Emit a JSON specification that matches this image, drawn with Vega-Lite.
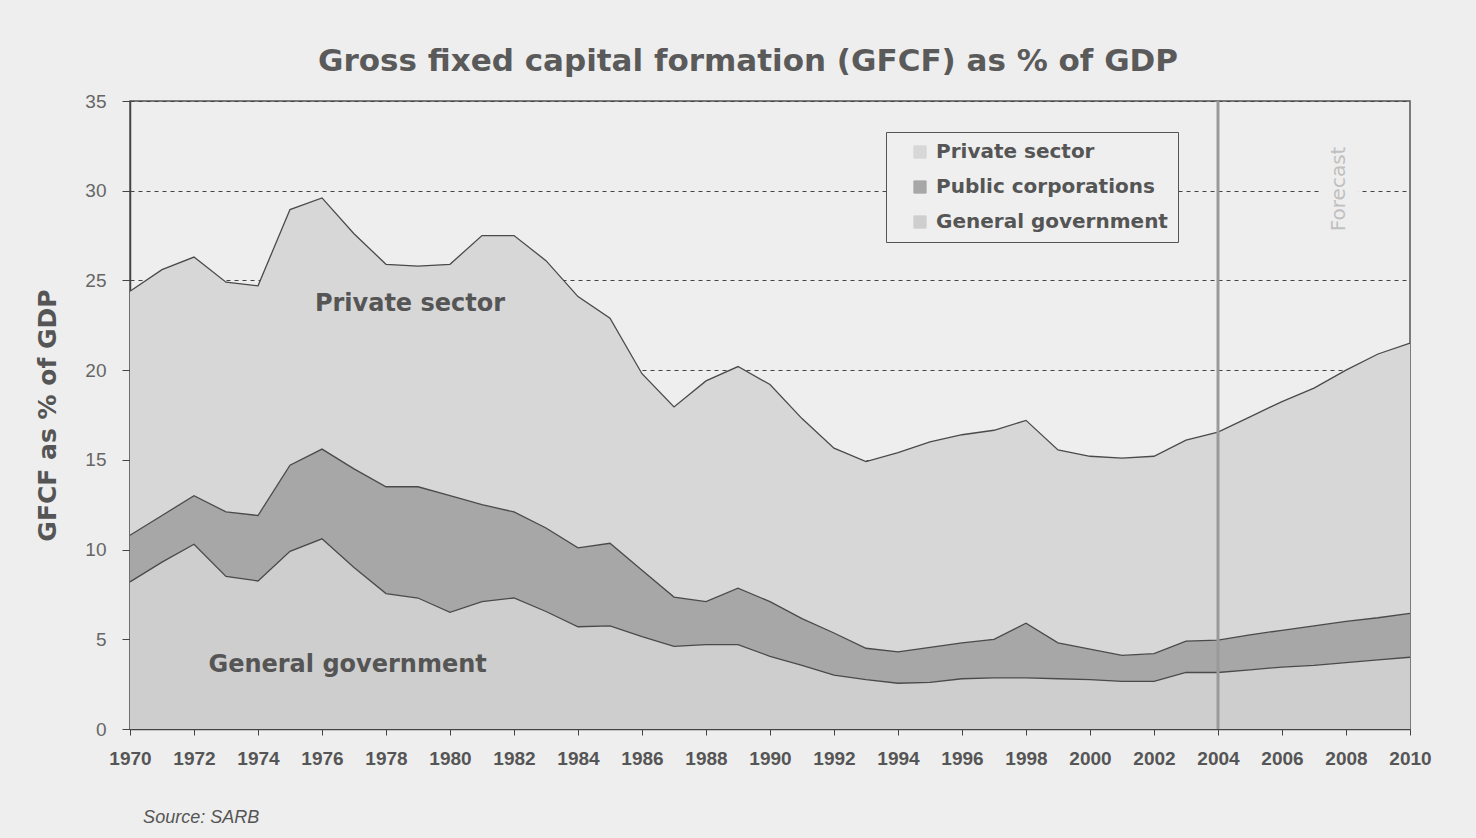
{
  "$schema": "https://vega.github.io/schema/vega-lite/v6.json",
  "width": 1280,
  "height": 628,
  "autosize": {"type": "none"},
  "padding": {"left": 130, "top": 101, "right": 66, "bottom": 109},
  "background": "#eeeeee",
  "title": {
    "text": "Gross fixed capital formation (GFCF) as % of GDP",
    "font": "DejaVu Sans",
    "fontSize": 31,
    "fontWeight": "bold",
    "color": "#5a5a5a",
    "anchor": "middle",
    "dx": -22,
    "baseline": "alphabetic",
    "offset": -10
  },
  "config": {
    "view": {"stroke": "#555555", "strokeWidth": 1.5},
    "legend": {"symbolStrokeColor": "#444444", "symbolStrokeWidth": 1}
  },
  "layer": [
    {
      "data": {
        "values": [
          {"year": 1970, "General government": 8.2, "Public corporations": 2.6, "Private sector": 13.6},
          {"year": 1971, "General government": 9.3, "Public corporations": 2.6, "Private sector": 13.7},
          {"year": 1972, "General government": 10.3, "Public corporations": 2.7, "Private sector": 13.3},
          {"year": 1973, "General government": 8.5, "Public corporations": 3.6, "Private sector": 12.8},
          {"year": 1974, "General government": 8.25, "Public corporations": 3.65, "Private sector": 12.8},
          {"year": 1975, "General government": 9.9, "Public corporations": 4.8, "Private sector": 14.25},
          {"year": 1976, "General government": 10.6, "Public corporations": 5.0, "Private sector": 14.0},
          {"year": 1977, "General government": 9.0, "Public corporations": 5.5, "Private sector": 13.1},
          {"year": 1978, "General government": 7.55, "Public corporations": 5.95, "Private sector": 12.4},
          {"year": 1979, "General government": 7.3, "Public corporations": 6.2, "Private sector": 12.3},
          {"year": 1980, "General government": 6.5, "Public corporations": 6.5, "Private sector": 12.9},
          {"year": 1981, "General government": 7.1, "Public corporations": 5.4, "Private sector": 15.0},
          {"year": 1982, "General government": 7.3, "Public corporations": 4.8, "Private sector": 15.4},
          {"year": 1983, "General government": 6.55, "Public corporations": 4.65, "Private sector": 14.9},
          {"year": 1984, "General government": 5.7, "Public corporations": 4.4, "Private sector": 14.0},
          {"year": 1985, "General government": 5.75, "Public corporations": 4.6, "Private sector": 12.55},
          {"year": 1986, "General government": 5.15, "Public corporations": 3.7, "Private sector": 10.95},
          {"year": 1987, "General government": 4.6, "Public corporations": 2.75, "Private sector": 10.6},
          {"year": 1988, "General government": 4.7, "Public corporations": 2.4, "Private sector": 12.3},
          {"year": 1989, "General government": 4.7, "Public corporations": 3.15, "Private sector": 12.35},
          {"year": 1990, "General government": 4.05, "Public corporations": 3.05, "Private sector": 12.1},
          {"year": 1991, "General government": 3.55, "Public corporations": 2.6, "Private sector": 11.15},
          {"year": 1992, "General government": 3.0, "Public corporations": 2.35, "Private sector": 10.3},
          {"year": 1993, "General government": 2.75, "Public corporations": 1.75, "Private sector": 10.4},
          {"year": 1994, "General government": 2.55, "Public corporations": 1.75, "Private sector": 11.1},
          {"year": 1995, "General government": 2.6, "Public corporations": 1.95, "Private sector": 11.45},
          {"year": 1996, "General government": 2.8, "Public corporations": 2.0, "Private sector": 11.6},
          {"year": 1997, "General government": 2.85, "Public corporations": 2.15, "Private sector": 11.65},
          {"year": 1998, "General government": 2.85, "Public corporations": 3.05, "Private sector": 11.3},
          {"year": 1999, "General government": 2.8, "Public corporations": 2.0, "Private sector": 10.75},
          {"year": 2000, "General government": 2.75, "Public corporations": 1.7, "Private sector": 10.75},
          {"year": 2001, "General government": 2.65, "Public corporations": 1.45, "Private sector": 11.0},
          {"year": 2002, "General government": 2.65, "Public corporations": 1.55, "Private sector": 11.0},
          {"year": 2003, "General government": 3.15, "Public corporations": 1.75, "Private sector": 11.2},
          {"year": 2004, "General government": 3.15, "Public corporations": 1.8, "Private sector": 11.6},
          {"year": 2005, "General government": 3.3, "Public corporations": 1.95, "Private sector": 12.15},
          {"year": 2006, "General government": 3.45, "Public corporations": 2.05, "Private sector": 12.75},
          {"year": 2007, "General government": 3.55, "Public corporations": 2.2, "Private sector": 13.25},
          {"year": 2008, "General government": 3.7, "Public corporations": 2.3, "Private sector": 14.0},
          {"year": 2009, "General government": 3.85, "Public corporations": 2.35, "Private sector": 14.7},
          {"year": 2010, "General government": 4.0, "Public corporations": 2.45, "Private sector": 15.05}
        ]
      },
      "transform": [
        {"fold": ["General government", "Public corporations", "Private sector"], "as": ["series", "value"]},
        {"calculate": "indexof(['General government','Public corporations','Private sector'], datum.series)", "as": "stackorder"}
      ],
      "mark": {"type": "area", "line": {"stroke": "#4a4a4a", "strokeWidth": 1.3}, "opacity": 1},
      "encoding": {
        "x": {
          "field": "year",
          "type": "quantitative",
          "scale": {"domain": [1970, 2010], "nice": false, "zero": false},
          "axis": {
            "title": null,
            "values": [1970,1971,1972,1973,1974,1975,1976,1977,1978,1979,1980,1981,1982,1983,1984,1985,1986,1987,1988,1989,1990,1991,1992,1993,1994,1995,1996,1997,1998,1999,2000,2001,2002,2003,2004,2005,2006,2007,2008,2009,2010],
            "format": "d",
            "labelExpr": "datum.value % 2 == 0 ? datum.label : ''",
            "labelOverlap": false,
            "labelFlush": false,
            "labelBound": false,
            "grid": false,
            "tickSize": 6,
            "tickColor": "#444444",
            "domainColor": "#444444",
            "domainWidth": 1.5,
            "labelFont": "Liberation Sans",
            "labelFontWeight": "bold",
            "labelFontSize": 19,
            "labelColor": "#555555",
            "labelPadding": 14
          }
        },
        "y": {
          "field": "value",
          "type": "quantitative",
          "stack": "zero",
          "scale": {"domain": [0, 35], "nice": false},
          "axis": {
            "title": "GFCF as % of GDP",
            "titleFont": "DejaVu Sans",
            "titleFontWeight": "bold",
            "titleFontSize": 25,
            "titleColor": "#555555",
            "titleX": -70,
            "values": [0, 5, 10, 15, 20, 25, 30, 35],
            "grid": true,
            "gridDash": [4, 4],
            "gridColor": "#444444",
            "gridWidth": 1.2,
            "tickSize": 8,
            "tickColor": "#444444",
            "domainColor": "#444444",
            "domainWidth": 1.5,
            "labelFont": "Liberation Sans",
            "labelFontSize": 19,
            "labelColor": "#666666",
            "labelPadding": 16
          }
        },
        "color": {
          "field": "series",
          "type": "nominal",
          "scale": {
            "domain": ["Private sector", "Public corporations", "General government"],
            "range": ["#d7d7d7", "#a7a7a7", "#cecece"]
          },
          "legend": {
            "orient": "none",
            "legendX": 756,
            "legendY": 31,
            "title": null,
            "fillColor": "#efefef",
            "strokeColor": "#555555",
            "padding": 10,
            "symbolOffset": 14,
            "symbolType": "square",
            "symbolSize": 150,
            "symbolStrokeColor": "#444444",
            "symbolStrokeWidth": 1,
            "labelFont": "DejaVu Sans",
            "labelFontWeight": "bold",
            "labelFontSize": 20,
            "labelColor": "#555555",
            "labelOffset": 6,
            "labelLimit": 400,
            "rowPadding": 15,
            "encode": {
              "symbols": {
                "update": {
                  "stroke": {"value": "#444444"},
                  "strokeWidth": {"value": 1}
                }
              }
            }
          }
        },
        "order": {"field": "stackorder", "type": "quantitative", "sort": "ascending"}
      }
    },
    {
      "data": {"values": [{}]},
      "mark": {"type": "rule", "color": "#9a9a9a", "strokeWidth": 3},
      "encoding": {"x": {"datum": 2004}}
    },
    {
      "data": {"values": [{}]},
      "mark": {"type": "rect", "color": "#eeeeee", "opacity": 1},
      "encoding": {"x": {"datum": 2007.2}, "x2": {"datum": 2008.4}, "y": {"datum": 32.8}, "y2": {"datum": 27.4}}
    },
    {
      "data": {"values": [{}]},
      "mark": {"type": "text", "text": "Private sector", "font": "DejaVu Sans", "fontWeight": "bold", "fontSize": 24, "color": "#555555", "align": "center", "baseline": "middle"},
      "encoding": {"x": {"datum": 1978.75}, "y": {"datum": 23.7}}
    },
    {
      "data": {"values": [{}]},
      "mark": {"type": "text", "text": "General government", "font": "DejaVu Sans", "fontWeight": "bold", "fontSize": 24, "color": "#555555", "align": "center", "baseline": "middle"},
      "encoding": {"x": {"datum": 1976.8}, "y": {"datum": 3.57}}
    },
    {
      "data": {"values": [{}]},
      "mark": {"type": "text", "text": "Forecast", "font": "DejaVu Sans", "fontSize": 20, "color": "#c0c0c0", "align": "center", "baseline": "middle", "angle": 270},
      "encoding": {"x": {"datum": 2007.77}, "y": {"datum": 30.1}}
    },
    {
      "data": {"values": [{}]},
      "mark": {"type": "text", "text": "Source: SARB", "font": "Liberation Sans", "fontStyle": "italic", "fontSize": 18, "color": "#555555", "align": "left", "baseline": "middle", "clip": false},
      "encoding": {"x": {"datum": 1970.41}, "y": {"datum": -4.96}}
    }
  ]
}
